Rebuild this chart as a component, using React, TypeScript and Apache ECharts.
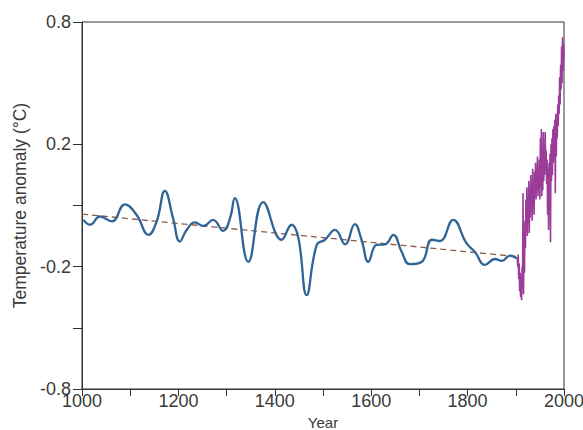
import React, { useEffect, useRef } from "react";
import * as echarts from "echarts";

// Reconstructed (smoothed) proxy record, years and anomaly values
const proxyYears = [1003, 1017, 1037, 1062, 1089, 1113, 1138, 1155, 1172, 1189, 1203, 1217, 1234, 1252, 1272, 1293, 1307, 1317, 1345, 1376, 1414, 1435, 1449, 1466, 1487, 1504, 1525, 1546, 1566, 1580, 1594, 1611, 1629, 1646, 1663, 1680, 1705, 1726, 1743, 1770, 1798, 1815, 1836, 1857, 1871, 1888, 1902];
const proxyValues = [-0.047, -0.063, -0.036, -0.052, 0.004, -0.03, -0.096, -0.052, 0.048, -0.042, -0.118, -0.08, -0.055, -0.067, -0.047, -0.083, -0.042, 0.024, -0.184, 0.011, -0.112, -0.063, -0.107, -0.293, -0.129, -0.112, -0.08, -0.127, -0.061, -0.112, -0.184, -0.129, -0.127, -0.096, -0.151, -0.192, -0.184, -0.112, -0.116, -0.047, -0.124, -0.151, -0.194, -0.175, -0.181, -0.164, -0.173];

// Linear trend (dashed)
const trendYears = [1000, 1902];
const trendValues = [-0.028, -0.167];

// Instrumental record (annual), 1903-2000
const instrStartYear = 1903;
const instrValues = [
  -0.17, -0.2, -0.16, -0.24, -0.19, -0.28, -0.22, -0.3, -0.25, -0.31,
  -0.2, -0.27, 0.04, -0.29, -0.1, -0.22, -0.05, -0.14, 0.02, -0.08,
  0.06, -0.1, 0.03, -0.06, 0.08, -0.09, 0.05, -0.04, 0.1, -0.02,
  0.07, -0.05, 0.12, 0.01, 0.09, -0.03, 0.11, 0.04, 0.14, 0.02,
  0.1, 0.06, 0.16, 0.03, 0.12, 0.05, 0.15, 0.02, 0.22, 0.06,
  0.25, 0.03, 0.18, 0.05, 0.24, 0.08, 0.19, 0.1, 0.24, 0.12,
  0.18, 0.07, 0.15, -0.03, 0.12, -0.08, 0.14, 0.05, 0.17, -0.12,
  0.2, 0.08, 0.22, 0.1, 0.25, 0.14, 0.26, 0.2, 0.28, 0.04,
  0.3, 0.16, 0.29, 0.22, 0.33, 0.26, 0.36, 0.3, 0.42, 0.33,
  0.46, 0.38, 0.52, 0.4, 0.55, 0.44, 0.53, 0.48
];

const xTickValues = [1000, 1100, 1200, 1300, 1400, 1500, 1600, 1700, 1800, 1900, 2000];
const xLabelValues = [1000, 1200, 1400, 1600, 1800, 2000];
const yTickValues = [-0.6, -0.4, -0.2, 0, 0.2, 0.6];
const yLabelValues = [-0.6, -0.2, 0.2, 0.6];
const yLabelTexts = ["-0.8", "-0.2", "0.2", "0.8"];

export default function App() {
  const ref = useRef<HTMLDivElement>(null);
  useEffect(() => {
    if (!ref.current) return;
    const chart = echarts.init(ref.current, null, { renderer: "svg" });
    const proxy = proxyYears.map((y, i) => [y, proxyValues[i]]);
    const trend = trendYears.map((y, i) => [y, trendValues[i]]);
    const instr = instrValues.map((v, i) => [instrStartYear + i, v]);
    const textColor = "#3a3a3a";
    const font = "Liberation Sans, Arial, sans-serif";
    chart.setOption({
      animation: false,
      grid: {
        left: 82,
        right: 19,
        top: 22,
        bottom: 41,
        outerBoundsMode: "none",
        containLabel: false,
        show: true,
        borderColor: "#333",
        borderWidth: 1,
        backgroundColor: "transparent",
      },
      xAxis: {
        type: "value",
        min: 1000,
        max: 2000,
        interval: 100,
        name: "Year",
        nameLocation: "middle",
        nameGap: 22,
        nameTextStyle: { color: textColor, fontSize: 15, fontFamily: font },
        axisLine: { show: true, onZero: false, lineStyle: { color: "#333", width: 1 } },
        axisTick: { show: true, inside: false, length: 7, customValues: xTickValues, lineStyle: { color: "#333" } },
        axisLabel: {
          customValues: xLabelValues,
          color: textColor,
          fontSize: 18,
          fontFamily: font,
          margin: 3,
          formatter: (v: number) => String(v),
        },
        splitLine: { show: false },
      },
      yAxis: {
        type: "value",
        min: -0.6,
        max: 0.6,
        name: "Temperature anomaly (°C)",
        nameLocation: "middle",
        nameGap: 50,
        nameTextStyle: { color: textColor, fontSize: 17.5, fontFamily: font },
        axisLine: { show: true, onZero: false, lineStyle: { color: "#333", width: 1 } },
        axisTick: { show: true, length: 9, customValues: yTickValues, lineStyle: { color: "#333" } },
        axisLabel: {
          customValues: yLabelValues,
          color: textColor,
          fontSize: 18,
          fontFamily: font,
          margin: 11,
          formatter: (v: number) => {
            let best = 0;
            for (let i = 0; i < yLabelValues.length; i++) {
              if (Math.abs(yLabelValues[i] - v) < Math.abs(yLabelValues[best] - v)) best = i;
            }
            return yLabelTexts[best];
          },
        },
        splitLine: { show: false },
      },
      series: [
        {
          type: "line",
          data: trend,
          showSymbol: false,
          lineStyle: { color: "#8c5a48", width: 1.3, type: [6, 4] },
          z: 2,
        },
        {
          type: "line",
          data: proxy,
          smooth: 0.45,
          showSymbol: false,
          lineStyle: { color: "#2f6496", width: 2.3 },
          z: 3,
        },
        {
          type: "line",
          data: instr,
          showSymbol: false,
          lineStyle: { color: "#9a3c98", width: 1.6 },
          z: 4,
        },
      ],
    });
    return () => chart.dispose();
  }, []);
  return (
    <div
      ref={ref}
      style={{ position: "absolute", left: 0, top: 0, width: 583, height: 430, background: "#fff" }}
    />
  );
}
